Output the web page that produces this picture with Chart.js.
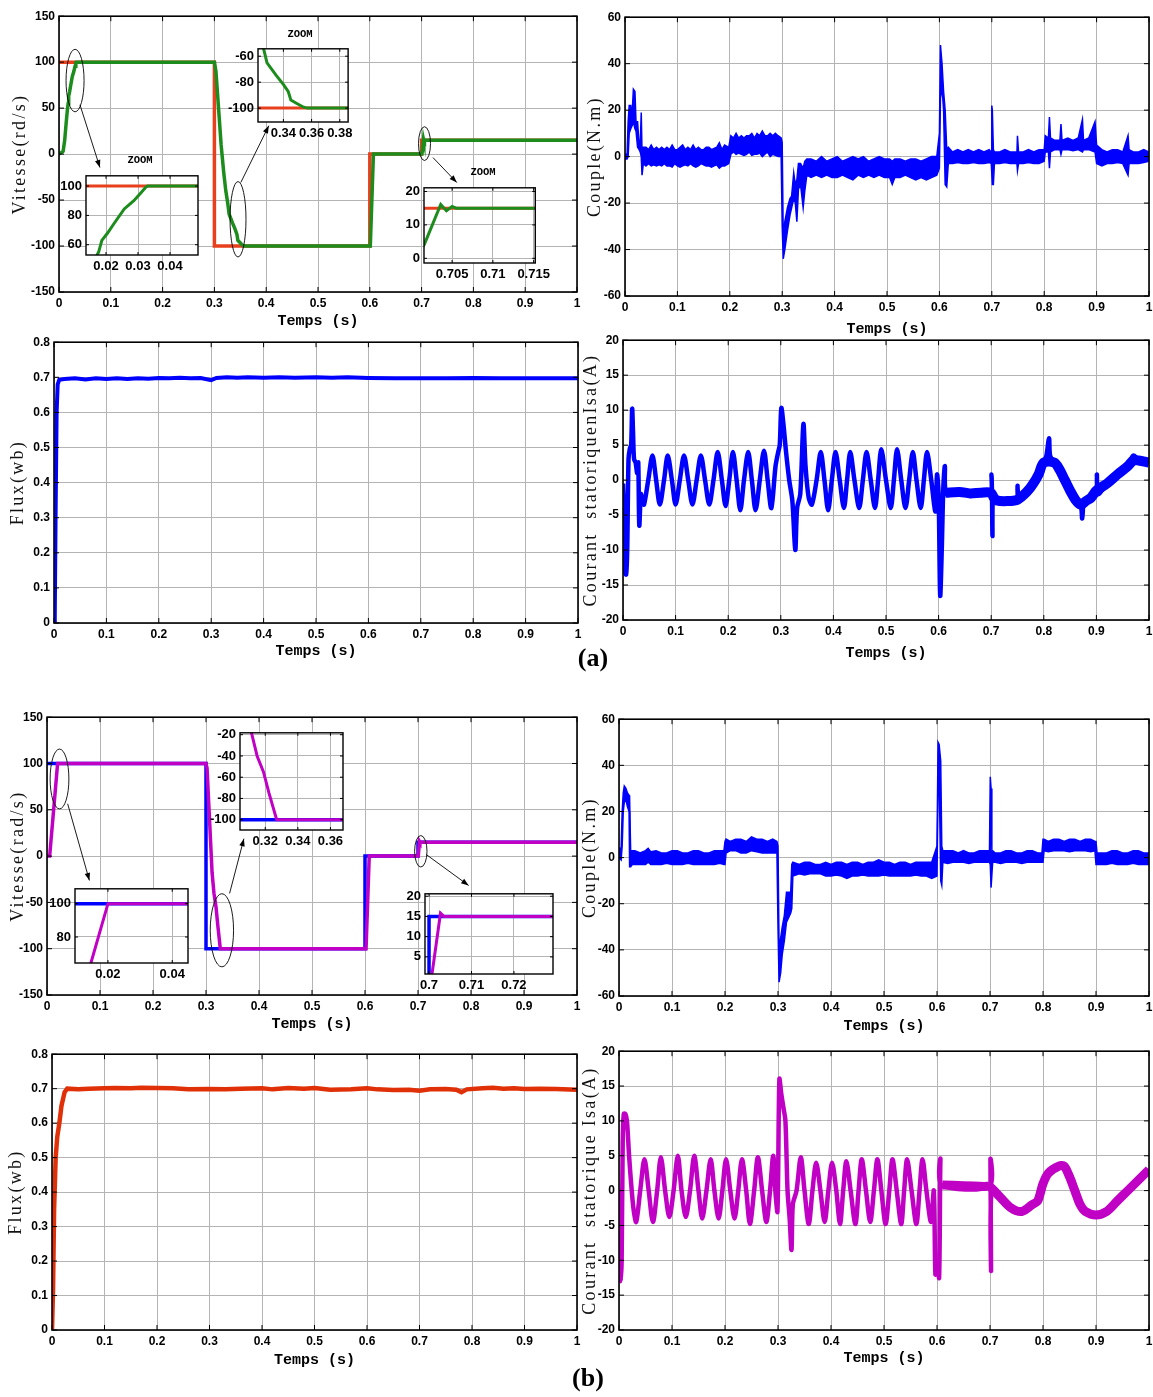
<!DOCTYPE html>
<html>
<head>
<meta charset="utf-8">
<script src="https://cdn.jsdelivr.net/npm/chart.js@4.4.0/dist/chart.umd.min.js"></script>
<style>
  body { margin: 0; background: #fff; width: 1153px; height: 1397px; position: relative; overflow: hidden; }
  .zoomlbl { position: absolute; font: bold 10.5px 'Liberation Mono', monospace; transform: translate(-50%, -50%); z-index: 5; }
  .tag { position: absolute; font: bold 26px 'Liberation Serif', serif; transform: translate(-50%, -50%); z-index: 5; }
</style>
</head>
<body>
<script>
// ---- axes ----
const timeTicks = [0, 0.1, 0.2, 0.3, 0.4, 0.5, 0.6, 0.7, 0.8, 0.9, 1];
const timeLabels = ['0', '0.1', '0.2', '0.3', '0.4', '0.5', '0.6', '0.7', '0.8', '0.9', '1'];
const speedTicks = [-150, -100, -50, 0, 50, 100, 150];
const speedLabels = ['-150', '-100', '-50', '0', '50', '100', '150'];
const coupleTicks = [-60, -40, -20, 0, 20, 40, 60];
const coupleLabels = ['-60', '-40', '-20', '0', '20', '40', '60'];
const fluxTicks = [0, 0.1, 0.2, 0.3, 0.4, 0.5, 0.6, 0.7, 0.8];
const fluxLabels = ['0', '0.1', '0.2', '0.3', '0.4', '0.5', '0.6', '0.7', '0.8'];
const currentTicks = [-20, -15, -10, -5, 0, 5, 10, 15, 20];
const currentLabels = ['-20', '-15', '-10', '-5', '0', '5', '10', '15', '20'];

// ---- speed reference (same for both controllers) ----
const refT = [0, 0.3, 0.3, 0.6, 0.6, 0.7, 0.7, 1];
const refV = [100, 100, -100, -100, 0, 0, 15, 15];

// ---- (a) speed ----
const speedA_t = [0, 0.008, 0.011, 0.014, 0.0165, 0.0177, 0.0187, 0.0205, 0.0223, 0.0257,
  0.0287, 0.031, 0.0325, 0.033, 0.3, 0.303, 0.308, 0.313, 0.318, 0.322,
  0.3259, 0.3284, 0.3349, 0.3401, 0.3435, 0.3453, 0.3492, 0.3544, 0.357, 0.601,
  0.607, 0.7005, 0.7016, 0.7036, 0.7043, 0.705, 0.7055, 1];
const speedA_v = [0, 3, 15, 35, 50, 55, 63, 68, 73.8, 84.4,
  90, 95.6, 99.4, 100, 100, 90, 50, 10, -20, -40,
  -54, -65.2, -74.8, -81.9, -87.4, -93.8, -96.2, -99.3, -100, -100,
  0, 0, 4.2, 16.1, 14.25, 15.5, 15, 15];

// ---- (a) couple: upper / lower edge of the noisy trace ----
const coupleA_t = [0, 0.004, 0.006, 0.008, 0.011, 0.013, 0.016, 0.019, 0.021, 0.024,
  0.027, 0.029, 0.031, 0.0325, 0.035, 0.04, 0.045, 0.05, 0.055, 0.06,
  0.065, 0.07, 0.075, 0.08, 0.085, 0.09, 0.095, 0.1, 0.105, 0.11,
  0.115, 0.12, 0.125, 0.13, 0.135, 0.14, 0.145, 0.15, 0.155, 0.16,
  0.165, 0.17, 0.175, 0.18, 0.185, 0.19, 0.198, 0.202, 0.207, 0.212,
  0.217, 0.222, 0.227, 0.232, 0.237, 0.242, 0.247, 0.252, 0.257, 0.262,
  0.267, 0.272, 0.277, 0.282, 0.287, 0.292, 0.298, 0.3, 0.302, 0.305,
  0.31, 0.315, 0.318, 0.322, 0.325, 0.328, 0.331, 0.335, 0.34, 0.343,
  0.347, 0.355, 0.365, 0.375, 0.385, 0.395, 0.405, 0.415, 0.425, 0.435,
  0.445, 0.455, 0.465, 0.475, 0.485, 0.495, 0.505, 0.51, 0.515, 0.525,
  0.535, 0.545, 0.555, 0.565, 0.575, 0.585, 0.595, 0.6, 0.602, 0.605,
  0.608, 0.611, 0.614, 0.617, 0.625, 0.635, 0.645, 0.655, 0.665, 0.675,
  0.685, 0.695, 0.699, 0.7, 0.701, 0.703, 0.705, 0.715, 0.725, 0.735,
  0.748, 0.749, 0.751, 0.76, 0.77, 0.78, 0.79, 0.8, 0.802, 0.808,
  0.81, 0.812, 0.82, 0.83, 0.832, 0.834, 0.845, 0.855, 0.865, 0.873,
  0.875, 0.885, 0.897, 0.9, 0.91, 0.92, 0.93, 0.94, 0.95, 0.96,
  0.962, 0.97, 0.98, 0.99, 1];
const coupleA_hi = [1, 1, 15, 22, 22, 16, 29, 28, 15, 15,
  5, 5, 19, 2, 4, 4, 3, 5, 3, 4,
  3, 4, 3, 4, 3, 5, 3, 3, 4, 5,
  3, 4, 3, 5, 3, 4, 3, 3, 4, 4,
  3, 3.5, 4, 6, 3, 5, 4, 9, 8, 10,
  8, 9, 8, 9, 9, 10, 8, 10, 9, 11,
  9, 9, 10, 9, 10, 9, 8, 6, -35, -28,
  -22, -18, -17, -7, -12, -10, -3, -3, -5, -2,
  -1, -1, -2, 0, -2, -1, 0, -2, -1, 0,
  -1, 0, -2, -1, 0, -1, -1, -2, -1, -1,
  -2, -1, -1, -2, -1, 0, 0, 10, 48, 40,
  28, 20, 3, 4, 2, 3, 2, 3, 2, 3,
  2, 3, 2, 22, 20, 3, 2, 2, 3, 2,
  2, 9, 2, 2, 3, 2, 3, 3, 9, 8,
  17, 8, 7, 7, 14, 7, 8, 7, 8, 16,
  7, 8, 15, 5, 3, 2, 3, 3, 2, 9,
  3, 2, 2, 3, 2];
const coupleA_lo = [-1, -1, 0, 10, 12, 13, 15, 12, 11, 4,
  3, 2, 0, -8, -3, -4, -3, -4, -3.5, -4,
  -3.5, -4, -3, -4, -4, -4.5, -3, -4, -4.5, -4,
  -3.5, -4, -3, -4, -4.5, -4, -3, -3.5, -4, -4,
  -4.5, -4, -3.5, -5, -4, -4, -3, 1, 2, 1,
  1.5, 1, 0.5, 1, 2, 0.5, 1, 1, 1.5, 0,
  1, 2, 0, 1, 0.5, 0, 0, -30, -44, -40,
  -32, -25, -22, -18, -20, -28, -14, -12, -22, -15,
  -8, -9, -8, -9, -8, -9, -9, -8, -9, -10,
  -8, -9, -8, -9, -8, -9, -9, -12, -9, -9,
  -8, -9, -10, -9, -10, -9, -8, -5, 25, 30,
  20, -12, -13, -3, -3, -2.5, -3, -3, -2.5, -3,
  -3, -2.5, -3, -3, -12, -12, -3, -3, -2.5, -3,
  -3, -6, -3, -3, -2.5, -3, -3, -2, 2, 2,
  -5, 2, 3, 3, 1, 3, 3, 2.5, 3, 2,
  3, 3, 2, -3, -4, -3, -3, -2.5, -3, -8,
  -3, -3, -3, -2.5, -2];

// ---- (a) flux ----
const fluxA_t = [0, 0.0015, 0.003, 0.005, 0.007, 0.01, 0.02, 0.04, 0.06, 0.08,
  0.1, 0.12, 0.14, 0.16, 0.18, 0.2, 0.22, 0.24, 0.26, 0.28,
  0.3, 0.31, 0.33, 0.35, 0.37, 0.4, 0.43, 0.46, 0.5, 0.53,
  0.56, 0.6, 0.65, 0.7, 0.75, 0.8, 0.85, 0.9, 0.95, 1];
const fluxA_v = [0, 0.02, 0.3, 0.6, 0.68, 0.693, 0.695, 0.697, 0.694, 0.697,
  0.695, 0.697, 0.695, 0.697, 0.696, 0.698, 0.697, 0.699, 0.697, 0.698,
  0.692, 0.698, 0.7, 0.699, 0.7, 0.699, 0.7, 0.699, 0.7, 0.699,
  0.7, 0.698, 0.697, 0.697, 0.697, 0.698, 0.697, 0.697, 0.697, 0.697];

// ---- (a) stator current ----
const currentA_t = [0, 0.002, 0.0035, 0.006, 0.008, 0.0105, 0.013, 0.0155, 0.0174, 0.019,
  0.021, 0.024, 0.027, 0.029, 0.031, 0.034, 0.037, 0.040, 0.048, 0.056,
  0.063, 0.070, 0.078, 0.085, 0.093, 0.100, 0.108, 0.116, 0.124, 0.132,
  0.140, 0.148, 0.156, 0.164, 0.172, 0.180, 0.188, 0.195, 0.202, 0.209,
  0.216, 0.223, 0.230, 0.238, 0.245, 0.252, 0.260, 0.268, 0.275, 0.282,
  0.290, 0.295, 0.298, 0.301, 0.305, 0.310, 0.316, 0.322, 0.3275, 0.331,
  0.337, 0.343, 0.347, 0.353, 0.359, 0.368, 0.376, 0.383, 0.390, 0.397,
  0.404, 0.412, 0.420, 0.426, 0.432, 0.440, 0.449, 0.456, 0.463, 0.471,
  0.479, 0.485, 0.491, 0.500, 0.509, 0.515, 0.521, 0.529, 0.537, 0.544,
  0.551, 0.558, 0.566, 0.572, 0.578, 0.586, 0.594, 0.597, 0.600, 0.603,
  0.606, 0.609, 0.612, 0.615, 0.640, 0.660, 0.680, 0.699, 0.7005, 0.7015,
  0.7024, 0.7035, 0.710, 0.730, 0.749, 0.750, 0.752, 0.770, 0.780, 0.790,
  0.800, 0.805, 0.810, 0.812, 0.820, 0.830, 0.840, 0.850, 0.860, 0.870,
  0.873, 0.876, 0.880, 0.890, 0.900, 0.901, 0.903, 0.920, 0.940, 0.960,
  0.970, 0.980, 1];
const currentA_v = [-0.5, -5, -13, -13.5, -10, 3, 4.5, 5, 10.2, 7,
  3, 2.5, 1, 2.5, -6.5, -2, -3, -3.5, 0, 3.5,
  0, -3.5, 0, 3.5, 0, -3.5, 0, 3.5, 0, -3.5,
  0, 3.5, 0, -3.5, 0, 4, 0, -3.7, 0, 4,
  0, -4.3, 0, 4, 0, -4.3, 0, 4.2, 0, -4,
  2, 4, 5, 10.3, 8, 4, 0, -3, -10, -4,
  -2, 8, 2, -2.5, -3.5, 0, 4, 0, -4.3, 0,
  4, 0, -4, 0, 4, 0, -4, 0, 4, 0,
  -4, 0, 4.4, 0, -4, 0, 4.4, 0, -4, 0,
  4, 0, -4, 0, 4, 0, -4.5, 0.8, -2, -16.5,
  -10, -1, 2, -2, -1.8, -2.1, -1.9, -2, 0.8, -2,
  -8, -2, -3, -3.2, -3, -0.8, -2.8, -1.5, -0.5, 1,
  2.5, 3.5, 6, 3.5, 2.5, 1.5, 0, -1.5, -3, -3.5,
  -5.5, -3, -3, -2.5, -1.5, 0.8, -2, -0.5, 1, 2,
  3.5, 3, 2.5];
// slow part after 0.6 s, drawn as a wide noisy band
const currentA_band_t = [0.613, 0.64, 0.66, 0.68, 0.699, 0.705, 0.71, 0.73, 0.75, 0.77,
  0.78, 0.79, 0.80, 0.82, 0.83, 0.84, 0.85, 0.86, 0.87, 0.88,
  0.89, 0.90, 0.92, 0.94, 0.96, 0.97, 0.98, 1];
const currentA_band_v = [-1.8, -1.7, -1.9, -1.8, -1.8, -2.5, -2.9, -3, -2.8, -1.5,
  -0.5, 0.8, 2.5, 2.5, 1.5, 0, -1.5, -2.8, -3.5, -3,
  -2.5, -1.5, -0.5, 0.8, 2, 2.8, 2.8, 2.5];

// ---- (b) speed ----
const speedB_t = [0, 0.005, 0.0147, 0.02, 0.3, 0.302, 0.3115, 0.315, 0.3189, 0.3223,
  0.327, 0.602, 0.608, 0.7006, 0.7027, 0.7035, 1];
const speedB_v = [0, 0, 64.4, 100, 100, 95, -18, -40, -55, -75,
  -100, -100, 0, 0, 15.8, 15, 15];

// ---- (b) couple ----
const coupleB_t = [0, 0.004, 0.006, 0.008, 0.01, 0.013, 0.016, 0.019, 0.02, 0.022,
  0.025, 0.03, 0.04, 0.05, 0.055, 0.06, 0.07, 0.08, 0.09, 0.1,
  0.11, 0.12, 0.13, 0.14, 0.15, 0.16, 0.17, 0.18, 0.19, 0.198,
  0.2, 0.202, 0.21, 0.22, 0.23, 0.24, 0.25, 0.26, 0.27, 0.28,
  0.29, 0.298, 0.3, 0.302, 0.305, 0.308, 0.312, 0.316, 0.32, 0.324,
  0.326, 0.328, 0.34, 0.35, 0.36, 0.37, 0.38, 0.39, 0.4, 0.41,
  0.42, 0.43, 0.44, 0.45, 0.46, 0.47, 0.48, 0.49, 0.5, 0.51,
  0.52, 0.53, 0.54, 0.55, 0.56, 0.57, 0.58, 0.59, 0.6, 0.602,
  0.604, 0.607, 0.609, 0.611, 0.62, 0.63, 0.64, 0.65, 0.66, 0.67,
  0.68, 0.69, 0.699, 0.7005, 0.702, 0.7035, 0.705, 0.71, 0.72, 0.73,
  0.74, 0.75, 0.76, 0.77, 0.78, 0.79, 0.798, 0.8, 0.802, 0.81,
  0.82, 0.83, 0.84, 0.85, 0.86, 0.87, 0.88, 0.89, 0.898, 0.9,
  0.902, 0.91, 0.92, 0.93, 0.94, 0.95, 0.96, 0.97, 0.98, 0.99,
  1];
const coupleB_hi = [4, 4, 20, 28, 31, 30, 28, 27, 26, 3,
  3, 3, 2, 3, 4, 2.5, 3, 2, 2, 3,
  3, 2, 2, 3, 3, 2, 2, 3, 3, 3,
  7, 8, 7, 8, 8, 7, 9, 8, 8, 7,
  8, 7, 5, -40, -35, -30, -25, -15, -15, -15,
  -3, -2, -3, -2, -2, -3, -3, -2, -3, -2,
  -2, -3, -2, -2, -3, -2, -2, -1, -2, -2,
  -3, -2, -2, -3, -2, -2, -2, -2, 5, 50,
  49, 42, 5, 3, 3, 3, 2, 3, 2, 2,
  3, 3, 3, 35, 30, 3, 3, 2, 2, 3,
  3, 2, 2, 3, 3, 2, 2, 8, 8, 7,
  8, 8, 7, 8, 8, 7, 8, 8, 7, 7,
  2, 2, 2, 3, 3, 2, 2, 3, 3, 2,
  2];
const coupleB_lo = [0, -1, 5, 20, 24, 25, 22, 20, -4, -4,
  -3, -3, -3, -3, -2, -3, -3, -3, -2.5, -3,
  -3, -3, -2.5, -3, -3, -3, -3, -3, -2.5, -3,
  -3, 2, 3, 3, 2, 2, 3, 2.5, 2, 2,
  2, 2, -30, -54, -50, -42, -36, -28, -26, -24,
  -22, -8, -7, -7.5, -7, -7, -7, -8, -8, -7.5,
  -8, -9, -8, -8, -7.5, -8, -8, -8, -7.5, -8,
  -8, -8, -8, -8, -7.5, -8, -8, -9, -8, 30,
  38, -10, -12, -2, -2.5, -2, -2, -2, -2.5, -2,
  -2, -2, -2, -3, -13, -13, -2, -2, -2.5, -2,
  -2, -2, -2.5, -2, -2, -2, -2, -2, 3, 2.5,
  3, 3, 3, 2.5, 3, 3, 3, 2.5, 3, -3,
  -3, -3, -3, -2.5, -3, -3, -3, -2.5, -3, -3,
  -3];

// ---- (b) flux ----
const fluxB_t = [0, 0.002, 0.004, 0.007, 0.01, 0.014, 0.018, 0.024, 0.029, 0.05,
  0.07, 0.1, 0.12, 0.15, 0.17, 0.2, 0.23, 0.26, 0.3, 0.33,
  0.36, 0.4, 0.42, 0.45, 0.48, 0.5, 0.53, 0.57, 0.6, 0.62,
  0.65, 0.68, 0.7, 0.72, 0.75, 0.77, 0.78, 0.79, 0.82, 0.84,
  0.86, 0.88, 0.9, 0.93, 0.96, 1];
const fluxB_v = [0, 0.12, 0.35, 0.5, 0.56, 0.6, 0.65, 0.69, 0.7, 0.698,
  0.7, 0.701, 0.702, 0.701, 0.703, 0.702, 0.701, 0.698, 0.699, 0.698,
  0.7, 0.701, 0.698, 0.702, 0.7, 0.702, 0.697, 0.698, 0.701, 0.698,
  0.696, 0.697, 0.694, 0.698, 0.699, 0.697, 0.69, 0.698, 0.701, 0.703,
  0.7, 0.701, 0.699, 0.7, 0.699, 0.697];

// ---- (b) stator current ----
const currentB_t = [0, 0.002, 0.0035, 0.005, 0.007, 0.009, 0.012, 0.015, 0.019, 0.024,
  0.028, 0.0325, 0.040, 0.048, 0.056, 0.064, 0.072, 0.079, 0.087, 0.095,
  0.103, 0.111, 0.118, 0.126, 0.134, 0.142, 0.150, 0.157, 0.165, 0.173,
  0.180, 0.188, 0.195, 0.202, 0.210, 0.218, 0.225, 0.232, 0.240, 0.247,
  0.255, 0.262, 0.270, 0.278, 0.285, 0.291, 0.295, 0.299, 0.3026, 0.306,
  0.310, 0.314, 0.318, 0.322, 0.3255, 0.328, 0.335, 0.343, 0.350, 0.358,
  0.365, 0.372, 0.380, 0.388, 0.395, 0.402, 0.410, 0.417, 0.423, 0.429,
  0.437, 0.446, 0.452, 0.458, 0.466, 0.474, 0.481, 0.4875, 0.495, 0.503,
  0.510, 0.516, 0.524, 0.5325, 0.538, 0.5436, 0.552, 0.561, 0.567, 0.5727,
  0.580, 0.5886, 0.594, 0.597, 0.600, 0.604, 0.6065, 0.609, 0.699, 0.7008,
  0.702, 0.7035, 0.72, 0.74, 0.76, 0.78, 0.79, 0.80, 0.81, 0.83,
  0.84, 0.85, 0.86, 0.87, 0.88, 0.90, 0.92, 0.94, 0.96, 0.98,
  1];
const currentB_v = [0, -10, -13, -10, 7, 11, 11, 10, 5, 0,
  -3, -4.5, 0, 4.5, 0, -4.5, 0, 4.8, 0, -3.8,
  0, 5, 0, -3.8, 0, 5, 0, -4, 0, 4.5,
  0, -4, 0, 4.5, 0, -4, 0, 4.5, 0, -4.8,
  0, 4.8, 0, -4.5, 0, 5, 0, -3, 16, 14,
  12, 10, 0, -4, -8.5, -2, 0, 4.8, 0, -4.8,
  0, 4, 0, -4.5, 0, 4, 0, -4.8, 0, 4.2,
  0, -4.8, 0, 4.5, 0, -4.5, 0, 4.5, 0, -4.8,
  0, 4.5, 0, -4.8, 0, 4.5, 0, -4.8, 0, 4.5,
  0, -4.5, 0, -12, -10, -12.5, 4.5, 0.8, 0.6, 4.5,
  -11.5, 0.5, -1, -2.5, -3, -2, -1.5, 1, 2.5, 3.5,
  3.5, 2, 0, -2, -3, -3.5, -3, -1.5, 0, 1.5,
  3];
const currentB_band_t = [0.61, 0.65, 0.69, 0.699, 0.705, 0.72, 0.74, 0.76, 0.78, 0.79,
  0.8, 0.81, 0.83, 0.84, 0.85, 0.86, 0.87, 0.88, 0.9, 0.92,
  0.94, 0.96, 0.98, 1];
const currentB_band_v = [0.8, 0.7, 0.6, 0.6, 0.2, -1, -2.5, -3, -2, -1.5,
  1, 2.5, 3.5, 3.5, 2, 0, -2, -3, -3.5, -3,
  -1.5, 0, 1.5, 3];

// ---- colours / fonts ----
const RED = '#e8401c';
const GREEN = '#1c8c1c';
const BLUE = '#0000ff';
const MAGENTA = '#c000c4';
const FLUXRED = '#e03008';
const GRID = '#b4b4b4';
const TICKFONT = { family: "'Liberation Sans Narrow', 'Arial Narrow', 'Liberation Sans', sans-serif", weight: 'bold', size: 12 };
const INSETFONT = { family: "'Liberation Sans Narrow', 'Arial Narrow', 'Liberation Sans', sans-serif", weight: 'bold', size: 13 };
const XTITLE = { family: "'Liberation Mono', monospace", weight: 'bold', size: 15 };

const pts = (t, v) => t.map((x, i) => ({ x: x, y: v[i] }));

function line(t, v, color, w, extra) {
  return Object.assign({
    data: pts(t, v), borderColor: color, backgroundColor: color,
    borderWidth: w, pointRadius: 0, fill: false, tension: 0
  }, extra || {});
}

// black frame + inward tick marks on all four sides (matlab look)
const frameTicks = {
  id: 'frameTicks',
  afterDatasetsDraw(chart, args, o) {
    const { ctx, chartArea: a, scales: { x, y } } = chart;
    const L = o.len || 5;
    ctx.save();
    ctx.strokeStyle = '#000';
    ctx.lineWidth = 1;
    ctx.beginPath();
    x.ticks.forEach(t => {
      const p = x.getPixelForValue(t.value);
      ctx.moveTo(p, a.bottom); ctx.lineTo(p, a.bottom - L);
      ctx.moveTo(p, a.top); ctx.lineTo(p, a.top + L);
    });
    y.ticks.forEach(t => {
      const p = y.getPixelForValue(t.value);
      ctx.moveTo(a.left, p); ctx.lineTo(a.left + L, p);
      ctx.moveTo(a.right, p); ctx.lineTo(a.right - L, p);
    });
    ctx.stroke();
    ctx.lineWidth = o.lw || 1.6;
    ctx.strokeRect(a.left, a.top, a.right - a.left, a.bottom - a.top);
    ctx.restore();
  }
};

// serif y title with the wide letter spacing of the original
const yTitle = {
  id: 'yTitle',
  afterDraw(chart, args, o) {
    if (!o.text) return;
    const { ctx, chartArea: a } = chart;
    ctx.save();
    ctx.translate(a.left - o.off, (a.top + a.bottom) / 2);
    ctx.rotate(-Math.PI / 2);
    ctx.font = '18px "Liberation Serif", serif';
    ctx.letterSpacing = '2.3px';
    ctx.fillStyle = '#111';
    ctx.textAlign = 'center';
    ctx.textBaseline = 'middle';
    ctx.fillText(o.text, 0, 0);
    ctx.restore();
  }
};

// ellipses and arrows pointing at the zoom windows
const marks = {
  id: 'marks',
  afterDraw(chart, args, o) {
    if (!o.items) return;
    const { ctx, scales: { x, y } } = chart;
    ctx.save();
    ctx.strokeStyle = '#000';
    ctx.fillStyle = '#000';
    ctx.lineWidth = 0.9;
    o.items.forEach(m => {
      if (m.type === 'ellipse') {
        const cx = x.getPixelForValue(m.t), cy = y.getPixelForValue(m.v);
        const rx = Math.abs(x.getPixelForValue(m.t + m.rt) - cx);
        const ry = Math.abs(y.getPixelForValue(m.v + m.rv) - cy);
        ctx.beginPath();
        ctx.ellipse(cx, cy, rx, ry, 0, 0, 2 * Math.PI);
        ctx.stroke();
      } else {
        const x1 = x.getPixelForValue(m.from[0]), y1 = y.getPixelForValue(m.from[1]);
        const x2 = x.getPixelForValue(m.to[0]), y2 = y.getPixelForValue(m.to[1]);
        const ang = Math.atan2(y2 - y1, x2 - x1);
        ctx.beginPath();
        ctx.moveTo(x1, y1); ctx.lineTo(x2, y2);
        ctx.stroke();
        ctx.beginPath();
        ctx.moveTo(x2, y2);
        ctx.lineTo(x2 - 8 * Math.cos(ang - 0.35), y2 - 8 * Math.sin(ang - 0.35));
        ctx.lineTo(x2 - 8 * Math.cos(ang + 0.35), y2 - 8 * Math.sin(ang + 0.35));
        ctx.closePath();
        ctx.fill();
      }
    });
    ctx.restore();
  }
};

const whiteBg = {
  id: 'whiteBg',
  beforeDraw(chart) {
    const { ctx, chartArea: a } = chart;
    ctx.save();
    ctx.fillStyle = '#fff';
    ctx.fillRect(a.left, a.top, a.right - a.left, a.bottom - a.top);
    ctx.restore();
  }
};

function place(left, top, w, h, z) {
  const c = document.createElement('canvas');
  c.width = Math.round(w);
  c.height = Math.round(h);
  c.style.cssText = 'position:absolute;left:' + left + 'px;top:' + top + 'px;width:' + Math.round(w) + 'px;height:' + Math.round(h) + 'px;z-index:' + z;
  document.body.appendChild(c);
  return c;
}

function scales(p, W, H, font) {
  return {
    x: {
      type: 'linear', min: p.xr[0], max: p.xr[1],
      afterBuildTicks: s => { s.ticks = p.xt.map(v => ({ value: v })); },
      afterFit: s => { s.height = H; },
      grid: { color: GRID, lineWidth: 1, drawTicks: false },
      border: { display: false },
      ticks: { padding: 4, color: '#000', font: font, maxRotation: 0, autoSkip: false, callback: (v, i) => p.xl[i] },
      title: { display: !!p.xTitle, text: p.xTitle, color: '#000', font: XTITLE, padding: 0 }
    },
    y: {
      type: 'linear', min: p.yr[0], max: p.yr[1],
      afterBuildTicks: s => { s.ticks = p.yt.map(v => ({ value: v })); },
      afterFit: s => { s.width = W; },
      grid: { color: GRID, lineWidth: 1, drawTicks: false },
      border: { display: false },
      ticks: { padding: 4, color: '#000', font: font, autoSkip: false, callback: (v, i) => p.yl[i] }
    }
  };
}

function mainChart(p) {
  const W = p.yOff + 12;
  const H = p.xOff + XTITLE.size * 0.6;
  const PT = 10, PR = 10;
  const [left, top, w, h] = p.box;
  const c = place(left - W, top - PT, W + w + PR, PT + h + H, 1);
  p.xr = [0, 1]; p.xt = timeTicks; p.xl = timeLabels; p.xTitle = 'Temps (s)';
  new Chart(c, {
    type: 'line',
    data: { datasets: p.datasets },
    plugins: [frameTicks, marks, yTitle],
    options: {
      responsive: false, animation: false, events: [],
      layout: { padding: { top: PT, right: PR, left: 0, bottom: 0 } },
      scales: scales(p, W, H, TICKFONT),
      plugins: {
        legend: { display: false }, tooltip: { enabled: false },
        frameTicks: { len: 5, lw: 1.6 },
        marks: { items: p.marks || null },
        yTitle: { text: p.yTitle, off: p.yOff }
      }
    }
  });
}

function insetChart(p) {
  const W = 34, H = 19, PT = 6, PR = 6;
  const [left, top, w, h] = p.box;
  const c = place(left - W, top - PT, W + w + PR, PT + h + H, 2);
  new Chart(c, {
    type: 'line',
    data: { datasets: p.datasets },
    plugins: [whiteBg, frameTicks],
    options: {
      responsive: false, animation: false, events: [],
      layout: { padding: { top: PT, right: PR, left: 0, bottom: 0 } },
      scales: scales(p, W, H, INSETFONT),
      plugins: {
        legend: { display: false }, tooltip: { enabled: false },
        frameTicks: { len: 3, lw: 1.4 }
      }
    }
  });
}

function text(cls, str, x, y) {
  const d = document.createElement('div');
  d.className = cls;
  d.textContent = str;
  d.style.left = x + 'px';
  d.style.top = y + 'px';
  document.body.appendChild(d);
}

// ================= (a) =================
// dataset 0 is painted on top, so the measured speed comes first
mainChart({
  box: [59, 15, 518, 277], yOff: 39, xOff: 29,
  yr: [-150, 150], yt: speedTicks, yl: speedLabels, yTitle: 'Vitesse(rd/s)',
  datasets: [line(speedA_t, speedA_v, GREEN, 3.5), line(refT, refV, RED, 3.5)],
  marks: [
    { type: 'ellipse', t: 0.031, v: 80, rt: 0.0174, rv: 34 },
    { type: 'arrow', from: [0.0405, 53.6], to: [0.079, -14.6] },
    { type: 'ellipse', t: 0.3456, v: -70.9, rt: 0.0154, rv: 41 },
    { type: 'arrow', from: [0.351, -30.9], to: [0.405, 30.9] },
    { type: 'ellipse', t: 0.7056, v: 11.4, rt: 0.0116, rv: 18.4 },
    { type: 'arrow', from: [0.722, -3.8], to: [0.768, -30.9] }
  ]
});
insetChart({
  box: [86, 170, 112, 85], xr: [0.01375, 0.04875], yr: [53, 107],
  xt: [0.02, 0.03, 0.04], xl: ['0.02', '0.03', '0.04'], yt: [60, 80, 100], yl: ['60', '80', '100'],
  datasets: [line(speedA_t, speedA_v, GREEN, 3), line(refT, refV, RED, 3)]
});
insetChart({
  box: [258, 43, 93, 79], xr: [0.322, 0.3859], yr: [-110.7, -54.3],
  xt: [0.34, 0.36, 0.38], xl: ['0.34', '0.36', '0.38'], yt: [-100, -80, -60], yl: ['-100', '-80', '-60'],
  datasets: [line(speedA_t, speedA_v, GREEN, 3), line(refT, refV, RED, 3)]
});
insetChart({
  box: [424, 182, 124, 81], xr: [0.70155, 0.7152], yr: [-1.4, 21.1],
  xt: [0.705, 0.71, 0.715], xl: ['0.705', '0.71', '0.715'], yt: [0, 10, 20], yl: ['0', '10', '20'],
  datasets: [line(speedA_t, speedA_v, GREEN, 3), line(refT, refV, RED, 3)]
});
text('zoomlbl', 'ZOOM', 140, 160);
text('zoomlbl', 'ZOOM', 300, 34);
text('zoomlbl', 'ZOOM', 483, 172);

mainChart({
  box: [625, 16, 524, 280], yOff: 30, xOff: 33,
  yr: [-60, 60], yt: coupleTicks, yl: coupleLabels, yTitle: 'Couple(N.m)',
  datasets: [
    line(coupleA_t, coupleA_hi, BLUE, 1.5),
    line(coupleA_t, coupleA_lo, BLUE, 1.5, { fill: '-1' })
  ]
});

mainChart({
  box: [54, 341, 524, 282], yOff: 36, xOff: 28,
  yr: [0, 0.8], yt: fluxTicks, yl: fluxLabels, yTitle: 'Flux(wb)',
  datasets: [line(fluxA_t, fluxA_v, BLUE, 4)]
});

mainChart({
  box: [623, 339, 526, 281], yOff: 32, xOff: 33,
  yr: [-20, 20], yt: currentTicks, yl: currentLabels, yTitle: 'Courant  statoriquenIsa(A)',
  datasets: [
    line(currentA_t, currentA_v, BLUE, 4.5, { tension: 0.3 }),
    line(currentA_band_t, currentA_band_v, BLUE, 10, { tension: 0.3 })
  ]
});
text('tag', '(a)', 593, 658);

// ================= (b) =================
mainChart({
  box: [47, 716, 530, 279], yOff: 29, xOff: 29,
  yr: [-150, 150], yt: speedTicks, yl: speedLabels, yTitle: 'Vitesse(rad/s)',
  datasets: [line(speedB_t, speedB_v, MAGENTA, 3.5), line(refT, refV, BLUE, 3.5)],
  marks: [
    { type: 'ellipse', t: 0.0236, v: 83.3, rt: 0.0177, rv: 32.3 },
    { type: 'arrow', from: [0.039, 56.5], to: [0.080, -26.3] },
    { type: 'ellipse', t: 0.330, v: -80.1, rt: 0.022, rv: 39.5 },
    { type: 'arrow', from: [0.3445, -40.3], to: [0.3715, 18.8] },
    { type: 'ellipse', t: 0.7053, v: 5.2, rt: 0.0117, rv: 17 },
    { type: 'arrow', from: [0.7158, 1.6], to: [0.7955, -31.7] }
  ]
});
insetChart({
  box: [74.5, 883, 112.5, 80], xr: [0.00975, 0.0449], yr: [64.4, 108.9],
  xt: [0.02, 0.04], xl: ['0.02', '0.04'], yt: [80, 100], yl: ['80', '100'],
  datasets: [line(speedB_t, speedB_v, MAGENTA, 3), line(refT, refV, BLUE, 3.5)]
});
insetChart({
  box: [240, 727, 103, 103], xr: [0.3045, 0.3677], yr: [-109.7, -18.2],
  xt: [0.32, 0.34, 0.36], xl: ['0.32', '0.34', '0.36'], yt: [-100, -80, -60, -40, -20], yl: ['-100', '-80', '-60', '-40', '-20'],
  datasets: [line(speedB_t, speedB_v, MAGENTA, 3), line(refT, refV, BLUE, 3.5)]
});
insetChart({
  box: [425, 888, 127.5, 86], xr: [0.69905, 0.7292], yr: [0.77, 20.6],
  xt: [0.7, 0.71, 0.72], xl: ['0.7', '0.71', '0.72'], yt: [5, 10, 15, 20], yl: ['5', '10', '15', '20'],
  datasets: [line(speedB_t, speedB_v, MAGENTA, 3), line(refT, refV, BLUE, 3.5)]
});

mainChart({
  box: [619, 718, 530, 278], yOff: 29, xOff: 30,
  yr: [-60, 60], yt: coupleTicks, yl: coupleLabels, yTitle: 'Couple(N.m)',
  datasets: [
    line(coupleB_t, coupleB_hi, BLUE, 1.5),
    line(coupleB_t, coupleB_lo, BLUE, 1.5, { fill: '-1' })
  ]
});

mainChart({
  box: [52, 1053, 525, 277], yOff: 36, xOff: 30,
  yr: [0, 0.8], yt: fluxTicks, yl: fluxLabels, yTitle: 'Flux(wb)',
  datasets: [line(fluxB_t, fluxB_v, FLUXRED, 4.5)]
});

mainChart({
  box: [619, 1050, 530, 280], yOff: 29, xOff: 28,
  yr: [-20, 20], yt: currentTicks, yl: currentLabels, yTitle: 'Courant  statorique Isa(A)',
  datasets: [
    line(currentB_t, currentB_v, MAGENTA, 4.5, { tension: 0.3 }),
    line(currentB_band_t, currentB_band_v, MAGENTA, 9, { tension: 0.3 })
  ]
});
text('tag', '(b)', 588, 1378);
</script>
</body>
</html>
